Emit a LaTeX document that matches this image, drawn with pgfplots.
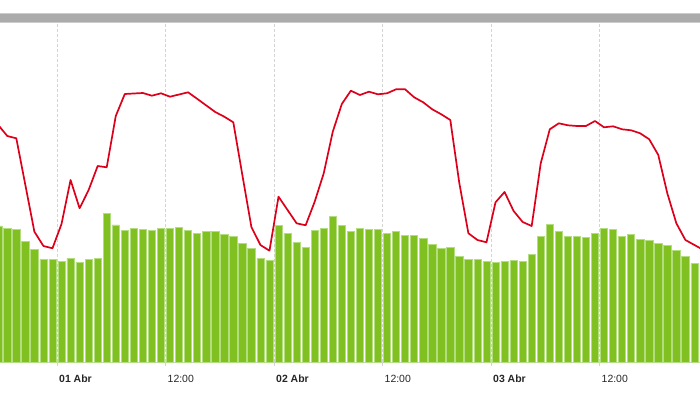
\documentclass[border=0pt]{standalone}
\usepackage{fontspec}
\setmainfont{Liberation Sans}
\usepackage{pgfplots}
\pgfplotsset{compat=1.18}
\definecolor{barfill}{RGB}{128,192,32}
\definecolor{barborder}{RGB}{178,222,128}
\definecolor{linered}{RGB}{221,0,27}
\definecolor{gridgray}{RGB}{212,212,212}
\definecolor{topbar}{RGB}{171,171,171}
\definecolor{topbaredge}{RGB}{204,204,204}
\begin{document}
\begin{tikzpicture}
\useasboundingbox (0,-35bp) rectangle (700bp,362bp);
\begin{axis}[
  scale only axis,
  width=700bp, height=349bp,
  xmin=-6.304, xmax=71.115,
  ymin=0, ymax=349,
  axis x line*=bottom,
  axis y line=none,
  x axis line style={draw=gridgray, line width=0.8bp},
  xtick={0,12,24,36,48,60},
  xticklabels={\textbf{01 Abr},12:00,\textbf{02 Abr},12:00,\textbf{03 Abr},12:00},
  xticklabel style={anchor=west, inner sep=0pt, xshift=2bp, yshift=-13bp, font=\fontsize{10.5}{12}\selectfont, text=black!85},
  ytick=\empty,
  tick align=outside,
  major tick length=4bp,
  x tick style={draw=gridgray, line width=0.6bp},
  xmajorgrids,
  grid style={draw=gridgray, dash pattern=on 3bp off 2bp, line width=0.6bp},
  clip=true,
]
\addplot[ybar, bar width=0.8, bar shift=0pt, fill=barfill, draw=barborder, line width=0.6bp] coordinates {
(-6.5,136) (-5.5,133.7) (-4.5,132.7) (-3.5,120.7) (-2.5,112.7) (-1.5,102.7) (-0.5,102.7)
(0.5,100.7) (1.5,103.7) (2.5,99.7) (3.5,102.7) (4.5,103.7) (5.5,148.7) (6.5,137)
(7.5,131.7) (8.5,133.7) (9.5,132.7) (10.5,131.7) (11.5,133.7) (12.5,133.7) (13.5,134.7)
(14.5,131.7) (15.5,128.7) (16.5,130.7) (17.5,130.7) (18.5,127.7) (19.5,125.7) (20.5,118.7)
(21.5,113.7) (22.5,103.7) (23.5,101.7) (24.5,136.7) (25.5,128.7) (26.5,119.7) (27.5,114.7)
(28.5,131.7) (29.5,133.7) (30.5,145.7) (31.5,136.7) (32.5,130.7) (33.5,133.7) (34.5,132.7)
(35.5,132.7) (36.5,128.7) (37.5,130.7) (38.5,126.7) (39.5,126.7) (40.5,123.7) (41.5,117.7)
(42.5,113.7) (43.5,114.7) (44.5,105.7) (45.5,102.7) (46.5,102.7) (47.5,100.7) (48.5,99.7)
(49.5,100.7) (50.5,101.7) (51.5,100.7) (52.5,107.7) (53.5,125.7) (54.5,137.7) (55.5,130.7)
(56.5,125.7) (57.5,125.7) (58.5,124.7) (59.5,128.7) (60.5,133.7) (61.5,132.7) (62.5,125.7)
(63.5,127.7) (64.5,122.7) (65.5,121.7) (66.5,118.7) (67.5,116.7) (68.5,111.7) (69.5,105.7)
(70.5,98.7) (71.5,98.7)
};
\addplot[linered, line width=1.7bp, line join=round, mark=none] coordinates {
(-6.5,237) (-5.5,226) (-4.5,223.7) (-3.5,177) (-2.5,130.3) (-1.5,116) (-0.5,113.7)
(0.5,138) (1.5,182) (2.5,153.7) (3.5,172) (4.5,196) (5.5,194.7) (6.5,246)
(7.5,268) (8.5,268.5) (9.5,269) (10.5,266.3) (11.5,268.7) (12.5,265.3) (13.5,267.5)
(14.5,269.7) (15.5,263.2) (16.5,256.6) (17.5,250) (18.5,245.3) (19.5,239.7) (20.5,187)
(21.5,135) (22.5,117) (23.5,111.3) (24.5,165.3) (25.5,152) (26.5,138.7) (27.5,136.7)
(28.5,160.3) (29.5,188.7) (30.5,230.3) (31.5,258) (32.5,271.3) (33.5,267) (34.5,270.3)
(35.5,267.7) (36.5,268.7) (37.5,272.7) (38.5,272.7) (39.5,264.7) (40.5,259.7) (41.5,252.7)
(42.5,247.7) (43.5,242) (44.5,178.7) (45.5,128.7) (46.5,122) (47.5,119.7) (48.5,159.7)
(49.5,170) (50.5,151) (51.5,140) (52.5,136) (53.5,198.7) (54.5,232.7) (55.5,238.7)
(56.5,236.7) (57.5,236) (58.5,236) (59.5,241) (60.5,234.7) (61.5,235.7) (62.5,232.7)
(63.5,231.7) (64.5,228.7) (65.5,222.7) (66.5,207) (67.5,168.7) (68.5,138.7) (69.5,122)
(70.5,117) (71.5,112)
};
\fill[topbar] (axis cs:-7,339) rectangle (axis cs:72,349);
\draw[topbaredge, line width=0.8bp] (axis cs:-7,348.6) -- (axis cs:72,348.6);
\draw[topbaredge, line width=0.8bp] (axis cs:-7,339.4) -- (axis cs:72,339.4);
\end{axis}
\end{tikzpicture}
\end{document}
